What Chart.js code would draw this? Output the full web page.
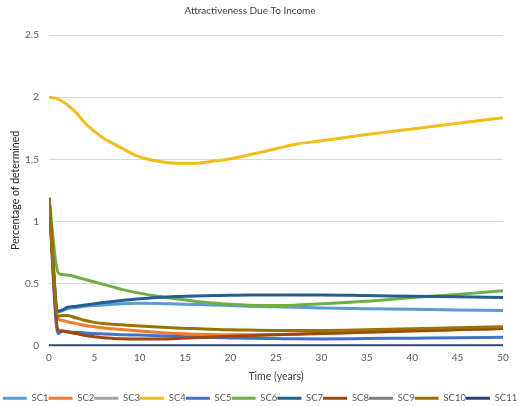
<!DOCTYPE html>
<html>
<head>
<meta charset="utf-8">
<script src="https://cdn.jsdelivr.net/npm/chart.js@4/dist/chart.umd.min.js"></script>
<style>
html,body{margin:0;padding:0;background:#fff;}
#wrap{width:520px;height:406px;position:relative;}
</style>
</head>
<body>
<div id="wrap"><canvas id="c" width="520" height="406"></canvas></div>
<script>
// Time points (years)
const times = [0, 1, 1.5, 2, 3, 4, 5, 6, 7, 8, 10, 12, 14, 16, 18, 20, 22, 25, 27, 30, 35, 40, 45, 50];
const seriesNames = ["SC1","SC2","SC3","SC4","SC5","SC6","SC7","SC8","SC9","SC10","SC11"];
const yTicks = [0, 0.5, 1, 1.5, 2, 2.5];
const xTicks = [0, 5, 10, 15, 20, 25, 30, 35, 40, 45, 50];

const sc1  = [1.19,0.275,0.285,0.30,0.31,0.32,0.325,0.33,0.335,0.34,0.343,0.342,0.338,0.334,0.33,0.325,0.32,0.315,0.312,0.305,0.30,0.295,0.29,0.285];
const sc2  = [1.19,0.22,0.205,0.195,0.18,0.165,0.155,0.145,0.138,0.132,0.12,0.108,0.10,0.095,0.092,0.09,0.09,0.092,0.095,0.10,0.11,0.12,0.13,0.14];
const sc3  = [0,0,0,0,0,0,0,0,0,0,0,0,0,0,0,0,0,0,0,0,0,0,0,0];
const sc4  = [2.0,1.985,1.965,1.94,1.875,1.79,1.725,1.67,1.63,1.59,1.52,1.485,1.47,1.47,1.485,1.505,1.535,1.585,1.62,1.65,1.70,1.745,1.79,1.835];
const sc5  = [1.19,0.10,0.12,0.115,0.11,0.105,0.10,0.097,0.094,0.09,0.088,0.083,0.078,0.072,0.068,0.065,0.062,0.06,0.058,0.057,0.06,0.063,0.066,0.07];
const sc6  = [1.19,0.59,0.575,0.57,0.555,0.535,0.515,0.495,0.475,0.455,0.425,0.40,0.38,0.36,0.345,0.335,0.328,0.325,0.328,0.34,0.36,0.39,0.415,0.445];
const sc7  = [1.19,0.28,0.29,0.31,0.32,0.33,0.34,0.35,0.357,0.365,0.38,0.39,0.397,0.402,0.405,0.408,0.41,0.41,0.41,0.41,0.405,0.40,0.395,0.39];
const sc8  = [1.19,0.13,0.12,0.115,0.10,0.085,0.075,0.067,0.062,0.058,0.056,0.056,0.06,0.066,0.072,0.078,0.083,0.09,0.095,0.10,0.112,0.122,0.132,0.14];
const sc9  = [0,0,0,0,0,0,0,0,0,0,0,0,0,0,0,0,0,0,0,0,0,0,0,0];
const sc10 = [1.19,0.24,0.245,0.245,0.225,0.205,0.19,0.18,0.175,0.17,0.16,0.152,0.145,0.14,0.135,0.13,0.128,0.125,0.124,0.124,0.13,0.138,0.147,0.155];
const sc11 = [0,0,0,0,0,0,0,0,0,0,0,0,0,0,0,0,0,0,0,0,0,0,0,0];

const seriesValues = [sc1,sc2,sc3,sc4,sc5,sc6,sc7,sc8,sc9,sc10,sc11];
const colors = ["#5B9BD5","#ED7D31","#A5A5A5","#F2BC1A","#4472C4","#70AD47","#255E91","#9E480E","#7F7F7F","#997300","#264478"];

const datasets = seriesNames.map((name, i) => ({
  label: name,
  data: times.map((t, k) => ({x: t, y: seriesValues[i][k]})),
  borderColor: colors[i],
  backgroundColor: colors[i],
  borderWidth: 3,
  pointRadius: 0,
  fill: false,
  cubicInterpolationMode: 'monotone',
  order: seriesNames.length - i
}));

const txt = "#595959";
const fam = "Lato, 'Liberation Sans', sans-serif";

// shift the title block so it is centred where the reference places it
const titleShift = {
  id: 'titleShift',
  afterLayout(chart) {
    if (chart.titleBlock) { chart.titleBlock.right = chart.titleBlock.right - 20; }
  }
};

new Chart(document.getElementById('c'), {
  type: 'line',
  data: { datasets },
  plugins: [titleShift],
  options: {
    responsive: false,
    animation: false,
    layout: { padding: { left: 0, right: 0, top: 0, bottom: -7 } },
    plugins: {
      title: {
        display: true,
        text: "Attractiveness Due To Income",
        color: "#404040",
        font: { family: fam, size: 10, weight: 'normal' },
        padding: { top: 5, bottom: 18 }
      },
      legend: {
        position: 'bottom',
        labels: {
          usePointStyle: true,
          pointStyle: 'line',
          pointStyleWidth: 24,
          boxHeight: 9,
          padding: 0,
          color: txt,
          font: { family: fam, size: 9.5 },
          sort: (a, b) => a.datasetIndex - b.datasetIndex
        }
      },
      tooltip: { enabled: false }
    },
    scales: {
      x: {
        type: 'linear',
        min: 0, max: 50,
        afterBuildTicks: (s) => { s.ticks = xTicks.map(v => ({value: v})); },
        afterFit: (s) => { s.height = 47.5; },
        grid: { display: false, drawTicks: false },
        border: { color: "#d9d9d9" },
        ticks: { color: txt, font: { family: fam, size: 10 }, padding: 6, maxRotation: 0, callback: (v) => String(v) },
        title: { display: true, text: "Time (years)", color: "#404040", font: { family: fam, size: 10.5 }, padding: { top: 4, bottom: 11 } }
      },
      y: {
        type: 'linear',
        min: 0, max: 2.5,
        afterBuildTicks: (s) => { s.ticks = yTicks.map(v => ({value: v})); },
        afterFit: (s) => { s.width = 49; },
        grid: { color: "#d9d9d9", drawTicks: false },
        border: { display: false },
        ticks: { color: txt, font: { family: fam, size: 10 }, padding: 10, callback: (v) => String(v) },
        title: { display: true, text: "Percentage of determined", color: "#262626", font: { family: fam, size: 10.5 }, padding: { top: 9, bottom: 0 } }
      },
      yPad: {
        type: 'linear',
        position: 'right',
        display: true,
        min: 0, max: 1,
        afterFit: (s) => { s.width = 17; },
        grid: { display: false, drawTicks: false },
        border: { display: false },
        ticks: { display: false },
        title: { display: false }
      }
    }
  }
});
</script>
</body>
</html>
